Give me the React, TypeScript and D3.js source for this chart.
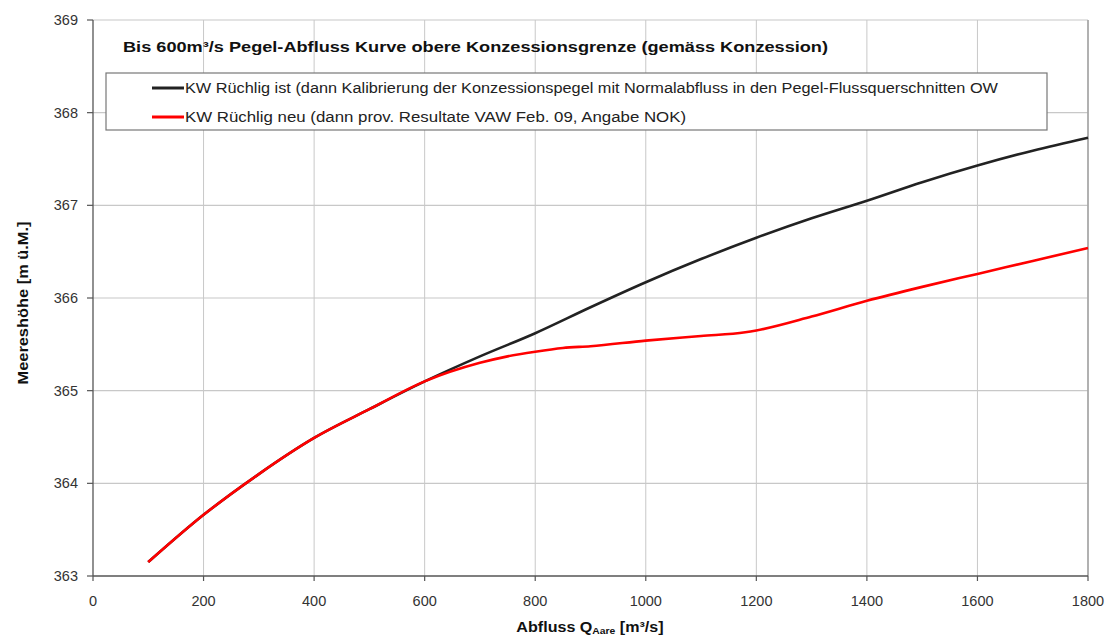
import React from "react";
import * as d3 from "d3";

// Abfluss (m³/s) and water level (m ü.M.) for both rating curves
const flowIst = [100, 200, 300, 400, 500, 600, 700, 800, 900, 1000, 1100, 1200, 1300, 1400, 1500, 1600, 1700, 1800];
const levelIst = [363.15, 363.66, 364.1, 364.49, 364.8, 365.1, 365.37, 365.62, 365.9, 366.17, 366.42, 366.65, 366.86, 367.05, 367.25, 367.43, 367.59, 367.73];

const flowNeu = [100, 200, 300, 400, 500, 600, 700, 750, 800, 850, 900, 1000, 1100, 1180, 1200, 1300, 1400, 1500, 1600, 1700, 1800];
const levelNeu = [363.15, 363.66, 364.1, 364.49, 364.8, 365.1, 365.3, 365.37, 365.42, 365.46, 365.48, 365.54, 365.59, 365.63, 365.65, 365.8, 365.97, 366.12, 366.26, 366.4, 366.54];

const xTicks = [0, 200, 400, 600, 800, 1000, 1200, 1400, 1600, 1800];
const yTicks = [363, 364, 365, 366, 367, 368, 369];

const seriesNames = [
  "KW Rüchlig ist (dann Kalibrierung der Konzessionspegel mit Normalabfluss in den Pegel-Flussquerschnitten OW",
  "KW Rüchlig neu (dann prov. Resultate VAW Feb. 09, Angabe NOK)",
];
const seriesColors = ["#222222", "#ff0000"];
// rendered widths of the legend labels
const legendWidths = [813, 501];

const W = 1109;
const H = 639;
const left = 93;
const right = 1088;
const top = 20;
const bottom = 576;

export default function App() {
  const x = d3.scaleLinear().domain([0, 1800]).range([left, right]);
  const y = d3.scaleLinear().domain([363, 369]).range([bottom, top]);

  const line = d3
    .line<[number, number]>()
    .x((d) => x(d[0]))
    .y((d) => y(d[1]))
    .curve(d3.curveMonotoneX);

  const ist: [number, number][] = flowIst.map((f, i) => [f, levelIst[i]]);
  const neu: [number, number][] = flowNeu.map((f, i) => [f, levelNeu[i]]);

  const font = "'Liberation Sans', Arial, sans-serif";

  return (
    <svg
      width={W}
      height={H}
      style={{ position: "absolute", left: 0, top: 0, background: "#fff" }}
      fontFamily={font}
    >
      <rect x={0} y={0} width={W} height={H} fill="#fff" />

      {/* grid */}
      {xTicks.slice(1).map((t) => (
        <line key={"gx" + t} x1={x(t)} x2={x(t)} y1={top} y2={bottom} stroke="#c8c8c8" strokeWidth={1} />
      ))}
      {yTicks.slice(1).map((t) => (
        <line key={"gy" + t} x1={left} x2={right} y1={y(t)} y2={y(t)} stroke="#c8c8c8" strokeWidth={1.2} />
      ))}
      <line x1={right} x2={right} y1={top} y2={bottom} stroke="#a0a0a0" strokeWidth={1.5} />

      {/* axes */}
      <line x1={left} x2={left} y1={top} y2={bottom} stroke="#555" strokeWidth={1.3} />
      <line x1={left} x2={right} y1={bottom} y2={bottom} stroke="#555" strokeWidth={1.3} />
      {yTicks.map((t) => (
        <g key={"ty" + t}>
          <line x1={left - 6} x2={left} y1={y(t)} y2={y(t)} stroke="#555" strokeWidth={1.2} />
          <text x={78} y={y(t) + 5} textAnchor="end" fontSize={14.5} fill="#333">
            {t}
          </text>
        </g>
      ))}
      {xTicks.map((t) => (
        <g key={"tx" + t}>
          <line x1={x(t)} x2={x(t)} y1={bottom} y2={bottom + 5} stroke="#555" strokeWidth={1.2} />
          <text x={x(t)} y={606} textAnchor="middle" fontSize={14.5} fill="#333">
            {t}
          </text>
        </g>
      ))}

      {/* axis titles */}
      <g transform="translate(590, 0) scale(1.15, 1)">
        <text x={0} y={632} textAnchor="middle" fontSize={14} fontWeight="bold" fill="#111">
          Abfluss Q<tspan fontSize={9} dy={2.5}>Aare</tspan>
          <tspan dy={-2.5}> [m³/s]</tspan>
        </text>
      </g>
      <text
        transform={`translate(28, 303) rotate(-90)`}
        textAnchor="middle"
        fontSize={14.5}
        fontWeight="bold"
        fill="#111"
        textLength={163}
        lengthAdjust="spacingAndGlyphs"
      >
        Meereshöhe [m ü.M.]
      </text>

      {/* rating curves */}
      <path d={line(ist) || ""} fill="none" stroke={seriesColors[0]} strokeWidth={2.6} />
      <path d={line(neu) || ""} fill="none" stroke={seriesColors[1]} strokeWidth={2.6} />

      {/* title */}
      <text
        x={123}
        y={52}
        fontSize={15}
        fontWeight="bold"
        fill="#111"
        textLength={705}
        lengthAdjust="spacingAndGlyphs"
      >
        Bis 600m³/s Pegel-Abfluss Kurve obere Konzessionsgrenze (gemäss Konzession)
      </text>

      {/* legend */}
      <rect x={106} y={73} width={941} height={57} fill="#fff" stroke="#777" strokeWidth={1.2} />
      {seriesNames.map((name, i) => (
        <g key={name}>
          <line x1={152} x2={184} y1={88 + i * 29} y2={88 + i * 29} stroke={seriesColors[i]} strokeWidth={3} />
          <text
            x={185}
            y={93 + i * 29}
            fontSize={14}
            fill="#222"
            textLength={legendWidths[i]}
            lengthAdjust="spacingAndGlyphs"
          >
            {name}
          </text>
        </g>
      ))}
    </svg>
  );
}
